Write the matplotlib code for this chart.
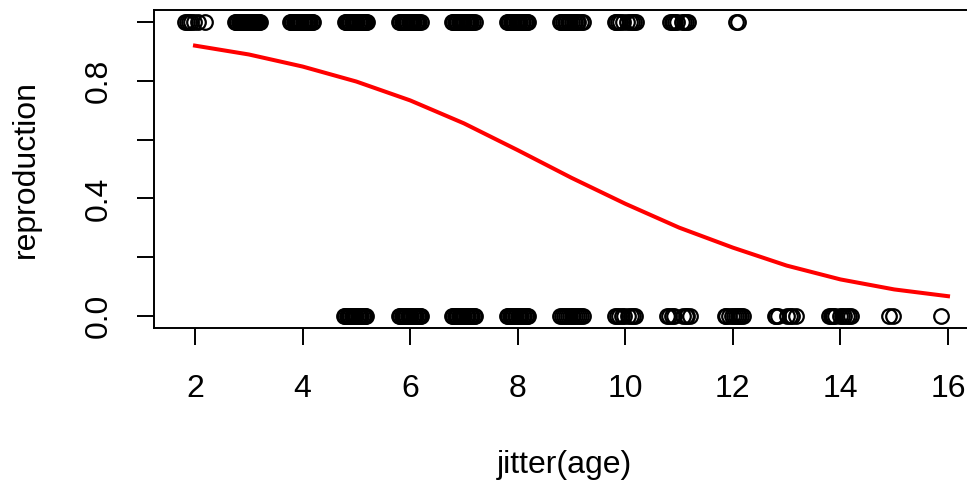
import matplotlib
matplotlib.use("Agg")
import matplotlib.pyplot as plt

plt.rcParams['font.family'] = ['Liberation Sans', 'DejaVu Sans']

# jittered ages of individuals that reproduced (reproduction = 1)
age_repro = [
    1.81, 1.85, 1.88, 1.93, 1.99, 2.05, 2.19,
    2.74, 2.76, 2.79, 2.81, 2.83, 2.86, 2.88, 2.90, 2.91, 2.93, 2.95, 2.97,
    2.99, 3.01, 3.02, 3.04, 3.06, 3.08, 3.10, 3.12, 3.13, 3.15, 3.17, 3.19, 3.21,
    3.77, 3.79, 3.81, 3.84, 3.86, 3.88, 3.90, 3.92, 3.94, 3.96, 3.98, 4.00,
    4.02, 4.04, 4.05, 4.08, 4.10, 4.12, 4.14, 4.17, 4.19,
    4.78, 4.80, 4.82, 4.85, 4.87, 4.89, 4.91, 4.93, 4.95, 4.98, 5.00, 5.02,
    5.04, 5.06, 5.08, 5.10, 5.12, 5.14, 5.16, 5.18, 5.20,
    5.80, 5.82, 5.85, 5.87, 5.89, 5.91, 5.93, 5.95, 5.97, 5.99, 6.01, 6.03,
    6.06, 6.08, 6.10, 6.12, 6.15, 6.17, 6.20,
    6.78, 6.80, 6.83, 6.85, 6.87, 6.90, 6.92, 6.94, 6.96, 6.98, 7.00, 7.03,
    7.05, 7.07, 7.10, 7.12, 7.14, 7.17, 7.20,
    7.80, 7.82, 7.84, 7.87, 7.89, 7.91, 7.94, 7.96, 7.99, 8.01, 8.03, 8.05,
    8.08, 8.10, 8.13, 8.15, 8.17, 8.20,
    8.79, 8.81, 8.84, 8.87, 8.90, 8.93, 8.95, 8.98, 9.01, 9.04, 9.07, 9.10,
    9.13, 9.17, 9.21,
    9.80, 9.83, 9.86, 9.90, 9.96, 10.04, 10.08, 10.12, 10.16, 10.20,
    10.83, 10.86, 10.88, 10.92, 10.97, 11.05, 11.09, 11.12, 11.16,
    12.05, 12.10,
]

# jittered ages of individuals that did not reproduce (reproduction = 0)
age_none = [
    4.77, 4.79, 4.82, 4.84, 4.86, 4.89, 4.91, 4.93, 4.95, 4.98, 5.00, 5.03,
    5.05, 5.07, 5.09, 5.12, 5.14, 5.16, 5.18,
    5.80, 5.82, 5.84, 5.87, 5.89, 5.91, 5.93, 5.96, 5.98, 6.00, 6.02, 6.05,
    6.07, 6.09, 6.11, 6.14, 6.16, 6.18, 6.20,
    6.78, 6.80, 6.83, 6.85, 6.88, 6.90, 6.92, 6.95, 6.97, 6.99, 7.01, 7.04,
    7.06, 7.08, 7.11, 7.13, 7.15, 7.18, 7.20,
    7.80, 7.82, 7.85, 7.87, 7.90, 7.92, 7.95, 7.97, 8.00, 8.02, 8.05, 8.07,
    8.10, 8.12, 8.15, 8.18, 8.20,
    8.79, 8.82, 8.86, 8.89, 8.93, 8.97, 9.00, 9.03, 9.06, 9.10, 9.14, 9.18, 9.21,
    9.80, 9.84, 9.88, 9.93, 9.97, 10.05, 10.10, 10.14, 10.18,
    10.78, 10.82, 10.86, 10.90, 11.08, 11.12, 11.15, 11.20,
    11.85, 11.88, 11.92, 11.98, 12.02, 12.05, 12.09, 12.12, 12.16, 12.19,
    12.78, 12.81, 12.84, 13.00, 13.06, 13.10, 13.17,
    13.79, 13.82, 13.84, 13.87, 13.90, 13.99, 14.03, 14.06, 14.12, 14.16, 14.20,
    14.90, 14.98,
    15.87,
]

# fitted probability of reproduction by age
curve_age = [2, 3, 4, 5, 6, 7, 8, 9, 10, 11, 12, 13, 14, 15, 16]
curve_p = [0.919, 0.889, 0.848, 0.797, 0.733, 0.655, 0.564, 0.470,
           0.382, 0.301, 0.233, 0.172, 0.125, 0.091, 0.068]

x_ticks = [2, 4, 6, 8, 10, 12, 14, 16]
y_ticks = [0.0, 0.2, 0.4, 0.6, 0.8, 1.0]
y_labels = ['0.0', '', '0.4', '', '0.8', '']

W, H = 967, 484
fig = plt.figure(figsize=(W / 100, H / 100), dpi=100)
ax = fig.add_axes([154 / W, (H - 328) / H, (975 - 154) / W, (328 - 10) / H])

ax.plot(age_repro, [1] * len(age_repro), 'o', mfc='none', mec='black',
        ms=10.5, mew=1.6, clip_on=False)
ax.plot(age_none, [0] * len(age_none), 'o', mfc='none', mec='black',
        ms=10.5, mew=1.6, clip_on=False)
ax.plot(curve_age, curve_p, color='red', lw=2.9)

# keep the scale: 2 -> 195 px, 16 -> 948 px
px_per_unit = (948 - 195) / 14
ax.set_xlim(2 - (195 - 154) / px_per_unit, 2 + (975 - 195) / px_per_unit)
ax.set_ylim(-0.04, 1.04)

ax.set_xticks(x_ticks)
ax.set_xticklabels([str(t) for t in x_ticks])
ax.set_yticks(y_ticks)
ax.set_yticklabels(y_labels, rotation=90, va='center')

ax.tick_params(axis='both', direction='out', length=12, width=1.4,
               labelsize=23, colors='black')
ax.tick_params(axis='x', pad=21)
ax.tick_params(axis='y', pad=17)

for s in ax.spines.values():
    s.set_linewidth(1.4)

ax.set_xlabel('jitter(age)', fontsize=23, labelpad=33)
ax.set_ylabel('reproduction', fontsize=23, labelpad=31)

fig.savefig('out.png', dpi=100)
